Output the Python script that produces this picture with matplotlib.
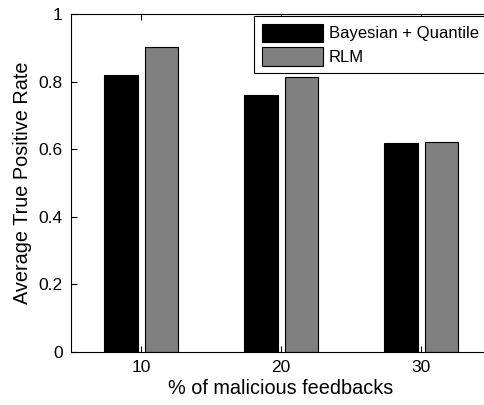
import numpy as np
import matplotlib
matplotlib.use("Agg")
import matplotlib.pyplot as plt

plt.rcParams["font.family"] = ["Liberation Sans", "DejaVu Sans"]

# data
groups = [10, 20, 30]
bayes_quantile = [0.820, 0.760, 0.617]
rlm = [0.902, 0.813, 0.620]
series_names = ["Bayesian + Quantile", "RLM"]
ytick_vals = [0, 0.2, 0.4, 0.6, 0.8, 1]
ytick_text = ["0", "0.2", "0.4", "0.6", "0.8", "1"]

fig = plt.figure(figsize=(4.84, 4.05), dpi=100)
# axes run past the right edge, like the cropped original
ax = fig.add_axes([71 / 484, 53 / 405, 420 / 484, 338 / 405])

x = np.array(groups, dtype=float)
w = 2.4
ax.bar(x - 1.45, bayes_quantile, w, color="black", edgecolor="black",
       linewidth=0.8, label=series_names[0])
ax.bar(x + 1.45, rlm, w, color="#808080", edgecolor="black",
       linewidth=0.8, label=series_names[1])

ax.set_xlim(5, 35)
ax.set_ylim(0, 1)
ax.set_xticks(groups)
ax.set_xticklabels([str(g) for g in groups])
ax.set_yticks(ytick_vals)
ax.set_yticklabels(ytick_text)
ax.tick_params(direction="in", top=True, right=True, length=4,
               labelsize=12.5, colors="black", pad=6)
for s in ax.spines.values():
    s.set_linewidth(0.8)

ax.set_xlabel("% of malicious feedbacks", fontsize=14.3, labelpad=3)
ax.set_ylabel("Average True Positive Rate", fontsize=14.3, labelpad=5)

leg = ax.legend(loc="upper left", bbox_to_anchor=(254 / 484, 1 - 16 / 405),
                bbox_transform=fig.transFigure, fontsize=12,
                handlelength=3.7, handleheight=1.35, handletextpad=0.35,
                labelspacing=0.3, borderpad=0.45, borderaxespad=0,
                fancybox=False, framealpha=1, edgecolor="black")
leg.get_frame().set_linewidth(0.8)

fig.savefig("out.png", dpi=100)
